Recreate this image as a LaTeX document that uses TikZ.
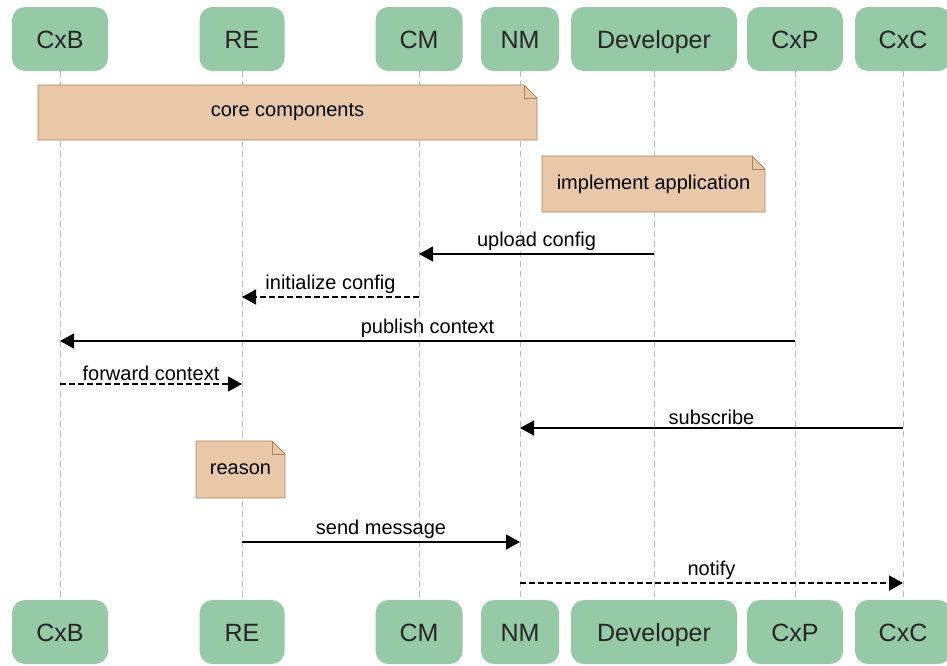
\documentclass[tikz,border=0pt]{standalone}
\usepackage{fontspec}
\setmainfont{Liberation Sans}
\usetikzlibrary{arrows.meta}

\definecolor{partgreen}{RGB}{150,201,166}
\definecolor{notefill}{RGB}{233,200,170}
\definecolor{noteline}{RGB}{176,130,90}
\definecolor{lifegray}{RGB}{190,190,190}

% note with folded corner: name, x1, y1, x2, y2, text
\newcommand{\notebox}[6]{%
  \filldraw[fill=notefill, draw=noteline, line width=0.8pt]
    (#2,#3) -- (#4-13,#3) -- (#4,#3+13) -- (#4,#5) -- (#2,#5) -- cycle;
  \draw[noteline, line width=0.8pt] (#4-13,#3) -- (#4-13,#3+13) -- (#4,#3+13);
  \node[notetext] (#1) at ({(#2+#4)/2},{(#3+#5)/2}) {#6};}

\begin{document}
\begin{tikzpicture}[x=1pt,y=-1pt,
    part/.style={fill=partgreen, rounded corners=13pt, minimum height=64pt,
      inner sep=0pt, text height=18pt, text depth=0pt,
      font=\fontsize{25}{25}\selectfont, text=black!85},
    lifeline/.style={draw=lifegray, line width=0.8pt, dash pattern=on 6pt off 4pt},
    msg/.style={-{Triangle[length=14pt,width=15pt]}, line width=1.2pt},
    reply/.style={msg, dash pattern=on 6pt off 3pt},
    lbl/.style={above, inner sep=3pt, font=\fontsize{20}{20}\selectfont},
    notetext/.style={font=\fontsize{20}{20}\selectfont, inner sep=0pt}
  ]
  \useasboundingbox (0,0) rectangle (947,665);

  % participants, top and bottom
  \foreach \nm/\lab/\x/\w in {CxB/CxB/60/96, RE/RE/242/85, CM/CM/419/87,
      NM/NM/520/78, Dev/Developer/654/166, CxP/CxP/795/96, CxC/CxC/903/96} {
    \node[part, minimum width=\w pt] (\nm) at (\x,39) {\lab};
    \node[part, minimum width=\w pt] (\nm-b) at (\x,632) {\lab};
    \draw[lifeline] (\nm.south) -- (\nm-b.north);
  }

  % notes
  \notebox{core}{38}{85}{537}{140}{core components}
  \notebox{impl}{542}{156}{765}{212}{implement application}
  \notebox{reason}{196}{441}{285}{498}{reason}

  % message rows
  \foreach \r/\y in {1/254, 2/297, 3/341, 4/384, 5/428, 6/542, 7/583}
    \coordinate (m\r) at (0,\y);

  \draw[msg] (Dev |- m1) -- node[lbl] {upload config} (CM |- m1);
  \draw[reply] (CM |- m2) -- node[lbl] {initialize config} (RE |- m2);
  \draw[msg] (CxP |- m3) -- node[lbl] {publish context} (CxB |- m3);
  \draw[reply] (CxB |- m4) -- node[lbl] {forward context} (RE |- m4);
  \draw[msg] (CxC |- m5) -- node[lbl] {subscribe} (NM |- m5);
  \draw[msg] (RE |- m6) -- node[lbl] {send message} (NM |- m6);
  \draw[reply] (NM |- m7) -- node[lbl] {notify} (CxC |- m7);
\end{tikzpicture}
\end{document}
